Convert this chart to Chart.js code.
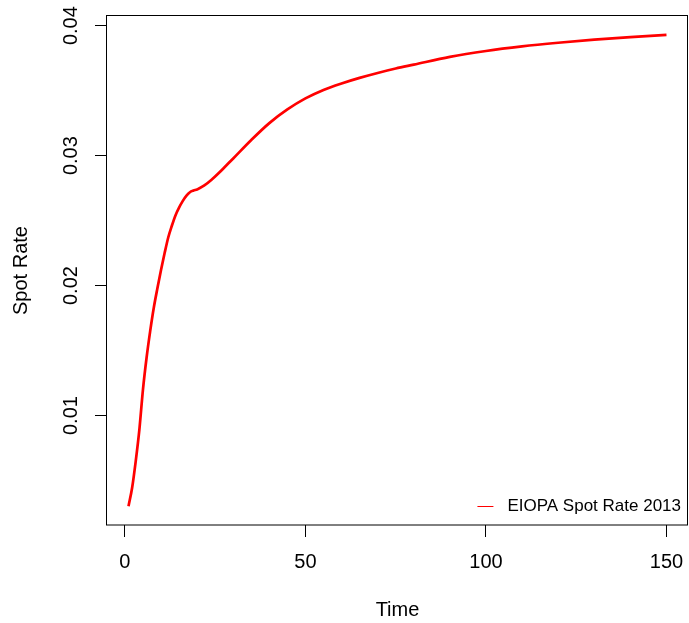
<!DOCTYPE html>
<html>
<head>
<meta charset="utf-8">
<title>EIOPA Spot Rate 2013</title>
<script src="https://cdn.jsdelivr.net/npm/chart.js@4/dist/chart.umd.min.js"></script>
<style>
  html, body { margin: 0; padding: 0; background: #fff; }
  #wrap { width: 689px; height: 623px; position: relative; }
</style>
</head>
<body>
<div id="wrap"><canvas id="spotChart"></canvas></div>
<script>
// maturities (years) and spot rates
const maturities = [1, 2, 3, 4, 5, 6, 7, 8, 9, 10, 11, 12, 13, 14, 15, 16, 17, 18, 19, 20,
  22, 24, 26, 28, 30, 35, 40, 45, 50, 55, 60, 65, 70, 75, 80, 90, 100, 110, 120, 130, 140, 150];
const spotRates = [0.00303, 0.00445, 0.00650, 0.00890, 0.01200, 0.01445, 0.01650, 0.01830, 0.01979, 0.02120,
  0.02250, 0.02370, 0.02460, 0.02540, 0.02600, 0.02650, 0.02690, 0.02718, 0.02731, 0.02740,
  0.02770, 0.02814, 0.02866, 0.02922, 0.02978, 0.03120, 0.03250, 0.03355, 0.03440, 0.03505,
  0.03555, 0.03598, 0.03636, 0.03670, 0.03700, 0.03760, 0.03805, 0.03840, 0.03868, 0.03892, 0.03912, 0.03929];

const xTicks = [0, 50, 100, 150];
const yTicks = [0.01, 0.02, 0.03, 0.04];
const seriesLabel = 'EIOPA Spot Rate 2013';

// R-style axis limits: data range padded by 4% on each side
function padRange(vals) {
  const lo = Math.min(...vals), hi = Math.max(...vals);
  const d = (hi - lo) * 0.04;
  return [lo - d, hi + d];
}
const [xMin, xMax] = padRange(maturities);
const [yMin, yMax] = padRange(spotRates);

const baseFont = { family: '"Liberation Sans", Arial, Helvetica, sans-serif', size: 20 };

// full box around the plot plus the small legend in the bottom-right corner
const frameAndLegend = {
  id: 'frameAndLegend',
  afterDraw(chart) {
    const { ctx, chartArea: a } = chart;
    ctx.save();
    ctx.strokeStyle = '#000';
    ctx.lineWidth = 1;
    ctx.strokeRect(a.left - 0.5, a.top - 0.5, a.right - a.left, a.bottom - a.top + 0.5);

    const ds = chart.data.datasets[0];
    ctx.font = '17px ' + baseFont.family;
    ctx.fillStyle = '#000';
    ctx.textAlign = 'right';
    ctx.textBaseline = 'middle';
    const ty = a.bottom - 19;
    const tx = a.right - 7;
    ctx.fillText(ds.label, tx, ty);
    const textLeft = tx - ctx.measureText(ds.label).width;
    ctx.strokeStyle = ds.borderColor;
    ctx.beginPath();
    ctx.moveTo(textLeft - 30, ty + 0.5);
    ctx.lineTo(textLeft - 14, ty + 0.5);
    ctx.stroke();
    ctx.restore();
  }
};

new Chart(document.getElementById('spotChart'), {
  type: 'line',
  data: {
    datasets: [{
      label: seriesLabel,
      data: maturities.map((m, i) => ({ x: m, y: spotRates[i] })),
      borderColor: '#ff0000',
      borderWidth: 2.7,
      pointRadius: 0,
      fill: false,
      cubicInterpolationMode: 'monotone'
    }]
  },
  options: {
    responsive: true,
    maintainAspectRatio: false,
    animation: false,
    layout: { padding: { top: 16, right: 1, left: 0, bottom: 0 } },
    plugins: { legend: { display: false }, tooltip: { enabled: false } },
    scales: {
      x: {
        type: 'linear',
        min: xMin,
        max: xMax,
        afterBuildTicks: s => { s.ticks = xTicks.map(v => ({ value: v })); },
        afterFit: s => { s.height = 98; s.paddingLeft = 0; s.paddingRight = 0; },
        grid: { drawOnChartArea: false, tickLength: 12, tickColor: '#000', tickWidth: 1 },
        border: { display: false },
        ticks: { font: baseFont, color: '#000', padding: 13, maxRotation: 0, callback: v => String(v) },
        title: { display: true, text: 'Time', font: baseFont, color: '#000', padding: { top: 0, bottom: 1 } }
      },
      y: {
        type: 'linear',
        min: yMin,
        max: yMax,
        afterBuildTicks: s => { s.ticks = yTicks.map(v => ({ value: v })); },
        afterFit: s => { s.width = 107; s.paddingTop = 0; s.paddingBottom = 0; },
        grid: { drawOnChartArea: false, tickLength: 12, tickColor: '#000', tickWidth: 1 },
        border: { display: false },
        ticks: { font: baseFont, color: '#000', padding: 4, minRotation: 90, maxRotation: 90,
                 crossAlign: 'center', callback: v => String(v) },
        title: { display: true, text: 'Spot Rate', font: baseFont, color: '#000', padding: { top: 9, bottom: 0 } }
      }
    }
  },
  plugins: [frameAndLegend]
});
</script>
</body>
</html>
